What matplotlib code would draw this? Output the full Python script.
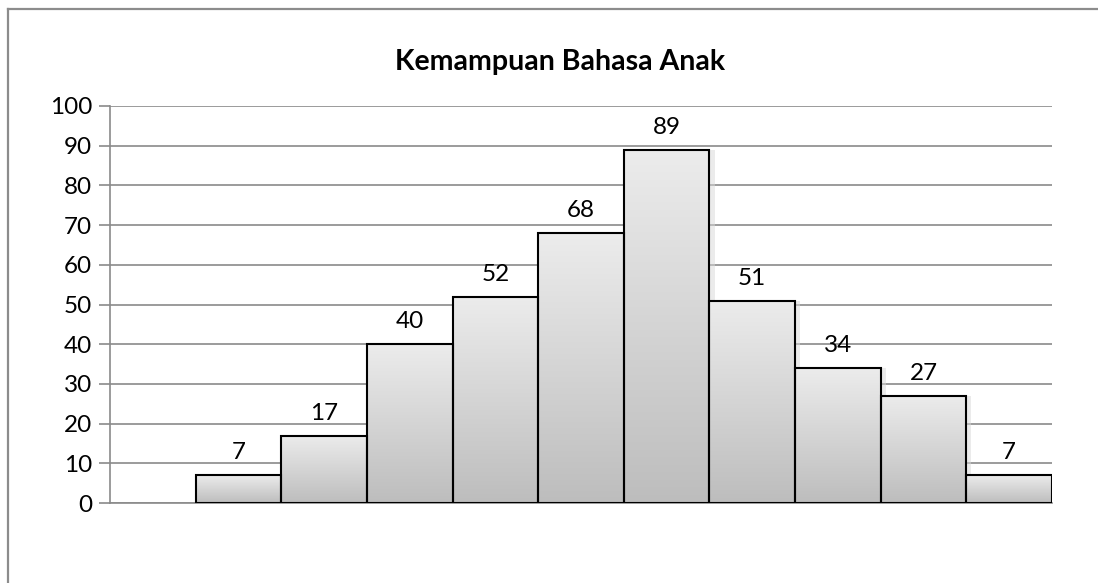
import numpy as np
import matplotlib.pyplot as plt
from matplotlib.patches import Rectangle
from matplotlib.colors import LinearSegmentedColormap

plt.rcParams['font.family'] = ['Lato', 'DejaVu Sans']

title = 'Kemampuan Bahasa Anak'
# first slot on the axis is empty, bars start in the second slot
positions = [1, 2, 3, 4, 5, 6, 7, 8, 9, 10]
counts = [7, 17, 40, 52, 68, 89, 51, 34, 27, 7]
yticks = [0, 10, 20, 30, 40, 50, 60, 70, 80, 90, 100]

fig = plt.figure(figsize=(10.98, 5.83), dpi=100)
ax = fig.add_axes([0.1002, 0.1372, 0.8579, 0.681])

# outer chart frame (left and top visible)
fig.add_artist(plt.Line2D([8/1098, 8/1098], [0, 1 - 9/583], transform=fig.transFigure,
                          color='#8c8c8c', lw=1.6))
fig.add_artist(plt.Line2D([8/1098, 1], [1 - 9/583, 1 - 9/583], transform=fig.transFigure,
                          color='#8c8c8c', lw=1.6))

grey = '#8a8a8a'
for y in yticks:
    ax.axhline(y, color=grey, lw=1.2, zorder=1)

cmap = LinearSegmentedColormap.from_list('g', ['#bdbdbd', '#ececec'])
grad = np.linspace(0, 1, 256).reshape(-1, 1)

bars = ax.bar(positions, counts, width=1.0, color='none', edgecolor='black',
              linewidth=1.5, zorder=4)
for b, v in zip(bars, counts):
    x0, w, h = b.get_x(), b.get_width(), b.get_height()
    # soft shadow on the right
    ax.add_patch(Rectangle((x0 + w, 0), 0.06, h, color='#d8d8d8', alpha=0.5, lw=0, zorder=2))
    ax.imshow(grad, cmap=cmap, origin='lower', extent=[x0, x0 + w, 0, h],
              aspect='auto', zorder=3)
    ax.text(b.get_x() + w / 2, h + 3.0, str(v), ha='center', va='bottom', fontsize=17.5,
            color='black', zorder=5)

ax.set_xlim(-0.5, 10.5)
ax.set_ylim(0, 100)
ax.set_yticks(yticks)
ax.set_xticks([])
ax.tick_params(axis='y', direction='out', length=8, width=1.2, color=grey,
               labelsize=17.5, pad=5)
for s in ['top', 'right']:
    ax.spines[s].set_visible(False)
ax.spines['left'].set_color(grey)
ax.spines['left'].set_linewidth(1.2)
ax.spines['bottom'].set_color(grey)
ax.spines['bottom'].set_linewidth(1.2)

fig.text(560/1098, 1 - 62/583, title, ha='center', va='center', fontsize=20.5,
         fontweight='bold')

fig.savefig('out.png', dpi=100)
